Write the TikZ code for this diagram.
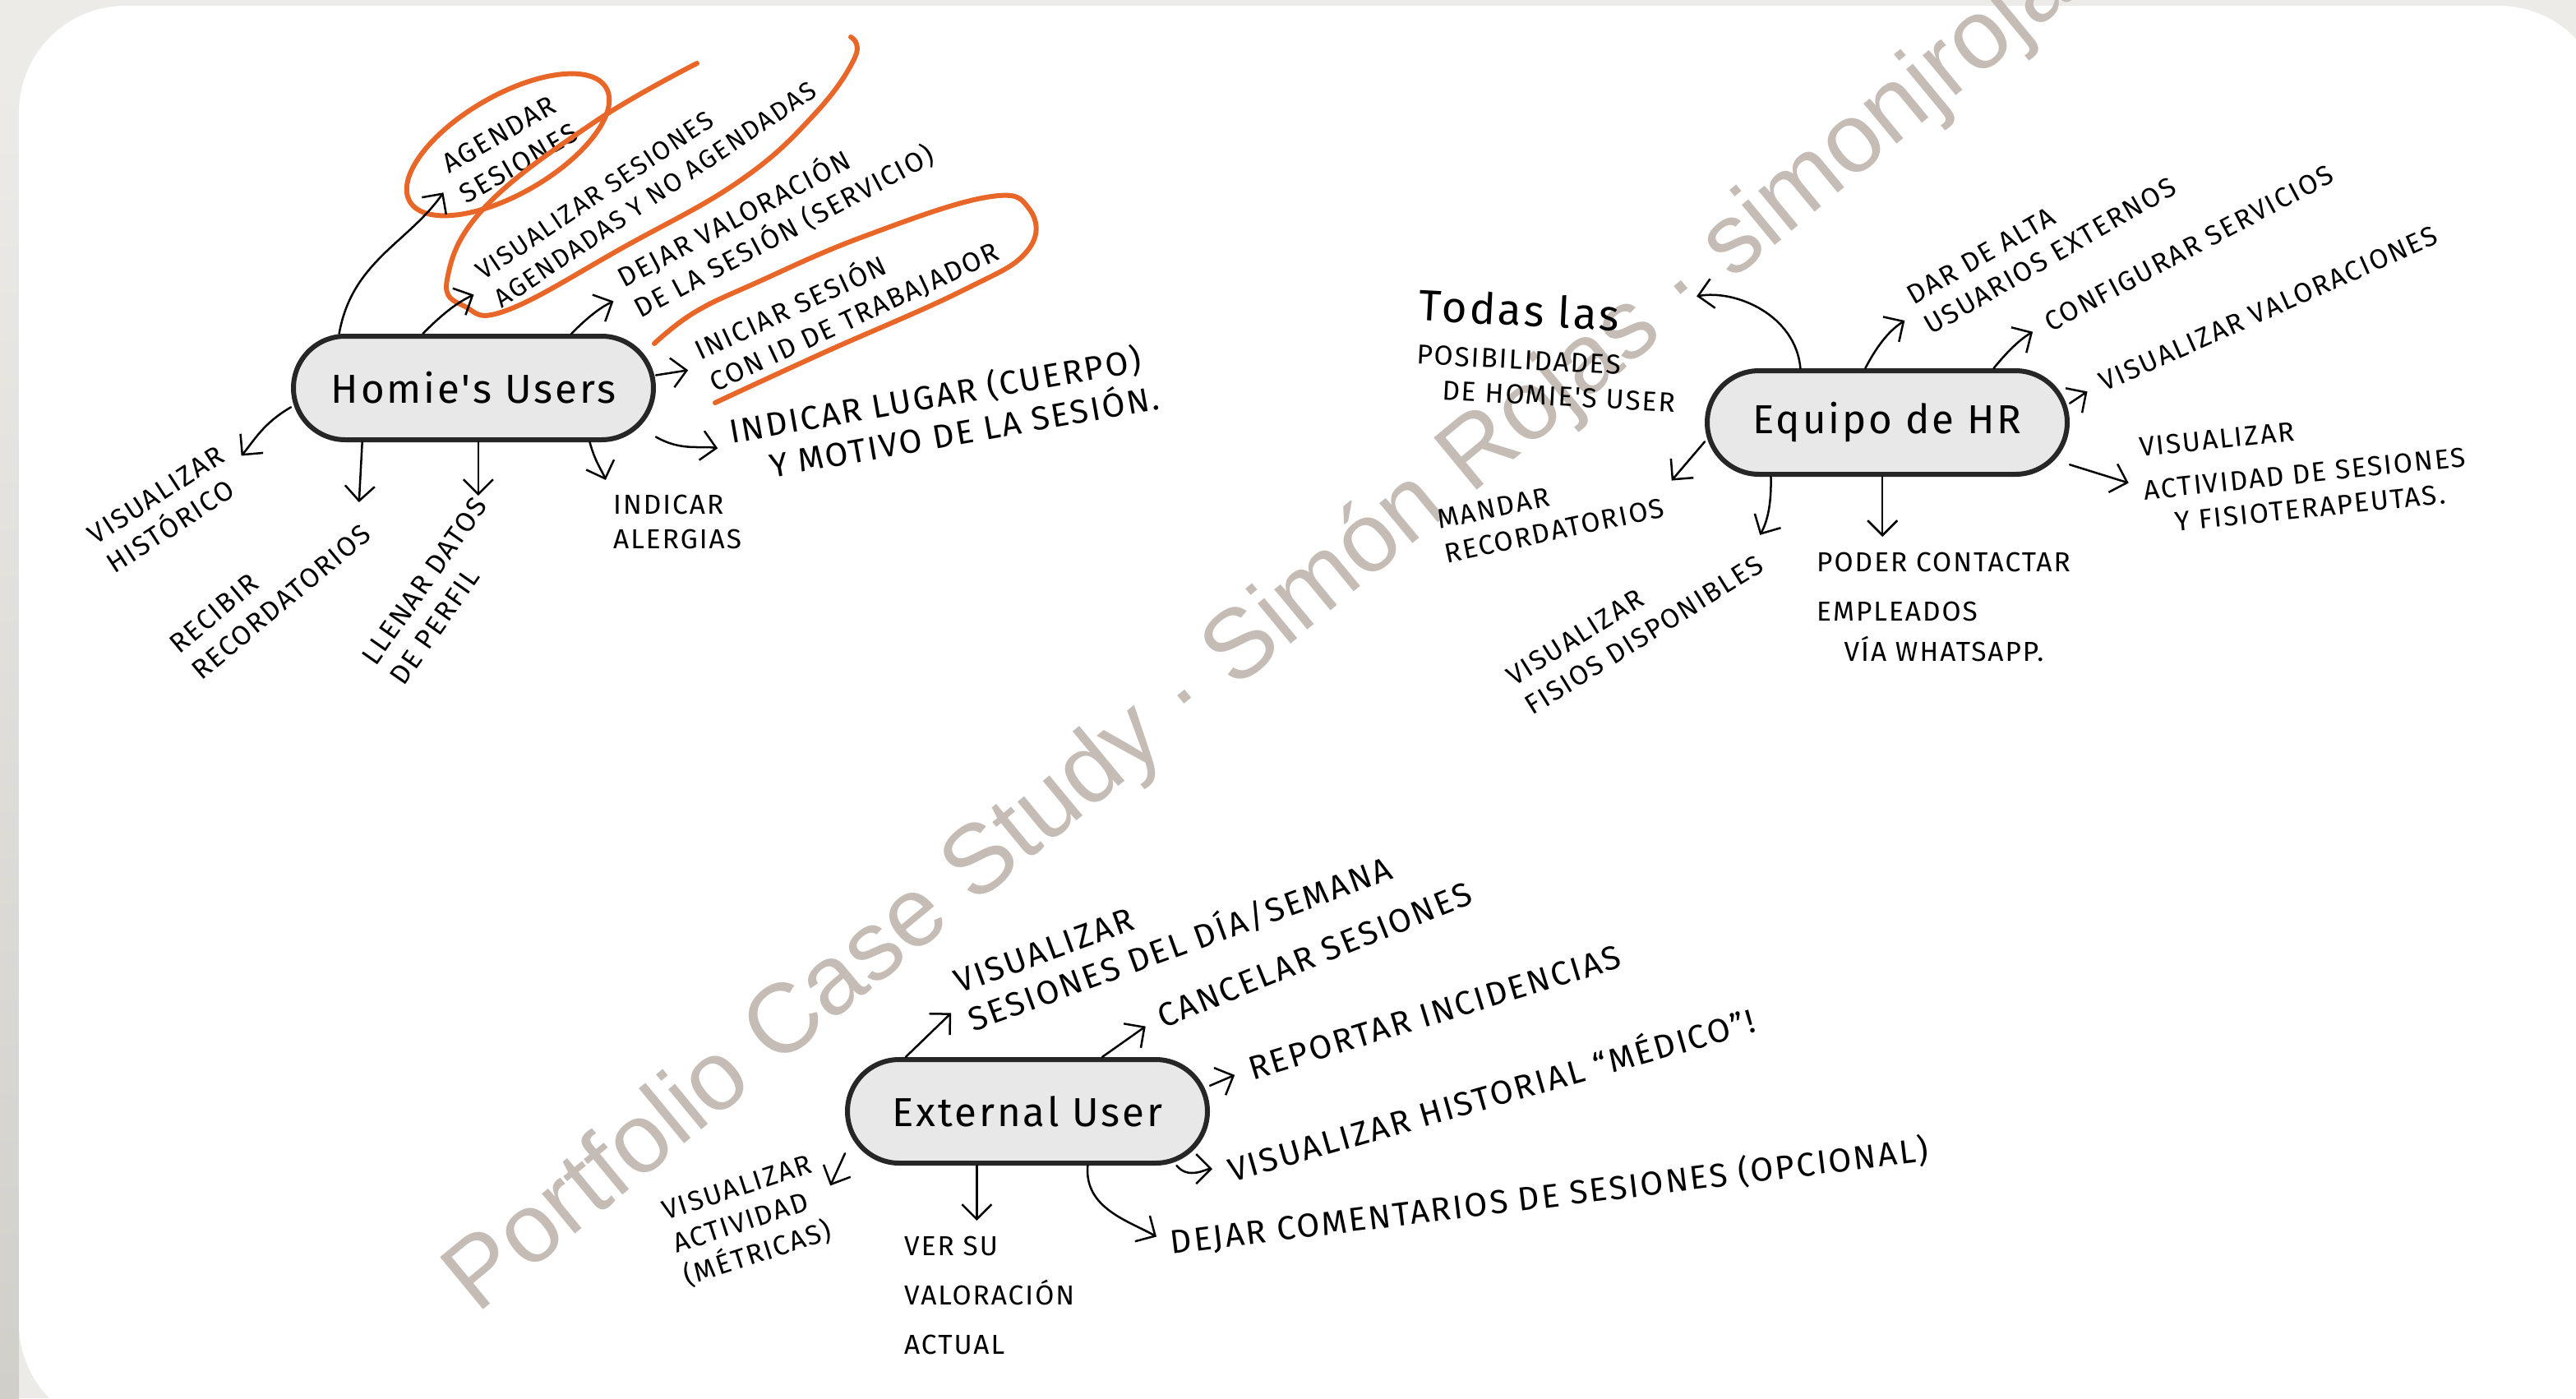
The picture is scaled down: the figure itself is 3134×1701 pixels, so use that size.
\documentclass[tikz,border=0pt]{standalone}
\usepackage{fontspec}
\setmainfont{Fira Sans}
\newfontfamily\handfont[LetterSpace=6]{Fira Sans}
\newfontfamily\markfont{Liberation Sans}
\usetikzlibrary{arrows.meta}
\definecolor{hOrange}{RGB}{232,102,40}
\definecolor{hMark}{RGB}{197,188,182}
\definecolor{hBack}{RGB}{236,235,231}
\definecolor{hShadow}{RGB}{208,207,202}
\definecolor{hHub}{RGB}{232,232,232}
\tikzstyle{mHub} = [rectangle, rounded corners=6.3mm, minimum width=43.8mm, minimum height=12.6mm, draw=black!85, line width=0.6mm, fill=hHub, font=\handfont\fontsize{14}{17}\selectfont]
\tikzstyle{mLabel} = [align=left, inner sep=1pt, font=\handfont\fontsize{9.5}{12}\selectfont]
\tikzstyle{mLabelL} = [mLabel, font=\handfont\fontsize{11.5}{14}\selectfont]
\tikzstyle{mArrow} = [line width=0.25mm, line cap=round, -{Straight Barb[length=1.8mm,width=3.6mm]}, shorten >=1.5mm]
\tikzstyle{mLoop} = [draw=hOrange, line width=0.6mm, line cap=round]
\tikzstyle{mMark} = [text=hMark, font=\markfont\fontsize{34}{40}\selectfont, anchor=base west, inner sep=0pt]

\begin{document}
\begin{tikzpicture}[x=0.1mm, y=0.1mm]
    \useasboundingbox (0,0) rectangle (3134,-1701);
    \clip (0,0) rectangle (3134,-1701);
    \fill [hBack] (0,0) rectangle (3134,-1701);
    \shade [top color=hBack, bottom color=hShadow] (0,-100) rectangle (23,-1701);
    \fill [white, rounded corners=13mm] (23,-7) rectangle (3170,-1740);

    \node (mark) [mMark, rotate=39.5] at (580,-1600) {Portfolio Case Study · Simón Rojas · simonjrojas};

    \node (homies) [mHub] at (576,-472) {Homie's Users};
    \node (equipo) [mHub] at (2296,-514) {Equipo de HR};
    \node (external) [mHub] at (1250,-1352) {External User};

    \node (agendar) [mLabel, anchor=west, rotate=30] at (548,-222) {AGENDAR\\SESIONES};
    \node (visSes) [mLabel, anchor=west, rotate=34, font=\handfont\fontsize{9}{11.5}\selectfont] at (590,-352) {VISUALIZAR SESIONES\\AGENDADAS Y NO AGENDADAS};
    \node (dejar) [mLabel, anchor=west, rotate=28] at (760,-360) {DEJAR VALORACIÓN\\DE LA SESIÓN (SERVICIO)};
    \node (iniciar) [mLabel, anchor=west, rotate=25] at (852,-448) {INICIAR SESIÓN\\CON ID DE TRABAJADOR};
    \node (lugar) [mLabelL, anchor=west, rotate=10] at (888,-548) {INDICAR LUGAR (CUERPO)\\\quad Y MOTIVO DE LA SESIÓN.};
    \node (alergias) [mLabel, anchor=north west] at (742,-598) {INDICAR\\ALERGIAS};
    \node (llenar) [mLabel, anchor=east, rotate=55] at (604,-618) {LLENAR DATOS\\DE PERFIL};
    \node (recibir) [mLabel, anchor=east, rotate=40] at (436,-626) {RECIBIR\\RECORDATORIOS};
    \node (historico) [mLabel, anchor=east, rotate=33] at (284,-566) {VISUALIZAR\\HISTÓRICO};

    \node (todas) [mLabel, anchor=north west, rotate=-3] at (1724,-346) {{\fontsize{15}{17}\selectfont Todas las}\\[3pt]POSIBILIDADES\\\quad DE HOMIE'S USER};
    \node (darAlta) [mLabel, anchor=west, rotate=30] at (2330,-382) {DAR DE ALTA\\USUARIOS EXTERNOS};
    \node (configurar) [mLabel, anchor=west, rotate=28] at (2486,-396) {CONFIGURAR SERVICIOS};
    \node (visVal) [mLabel, anchor=west, rotate=24] at (2552,-468) {VISUALIZAR VALORACIONES};
    \node (visAct) [mLabel, anchor=west, rotate=6] at (2604,-592) {VISUALIZAR\\[3pt]ACTIVIDAD DE SESIONES\\\quad Y FISIOTERAPEUTAS.};
    \node (poder) [mLabel, anchor=north west] at (2206,-668) {PODER CONTACTAR\\[5pt]EMPLEADOS\\[2pt]\quad VÍA WHATSAPP.};
    \node (fisios) [mLabel, anchor=east, rotate=32] at (2134,-664) {VISUALIZAR\\FISIOS DISPONIBLES};
    \node (mandar) [mLabel, anchor=east, rotate=12] at (2024,-596) {MANDAR\\RECORDATORIOS};

    \node (visDia) [mLabelL, anchor=west, rotate=20] at (1168,-1222) {VISUALIZAR\\SESIONES DEL DÍA/SEMANA};
    \node (cancelar) [mLabelL, anchor=west, rotate=22] at (1406,-1240) {CANCELAR SESIONES};
    \node (reportar) [mLabelL, anchor=west, rotate=17] at (1516,-1302) {REPORTAR INCIDENCIAS};
    \node (visHist) [mLabelL, anchor=west, rotate=16] at (1490,-1422) {VISUALIZAR HISTORIAL “MÉDICO”!};
    \node (dejarCom) [mLabelL, anchor=west, rotate=7] at (1420,-1512) {DEJAR COMENTARIOS DE SESIONES (OPCIONAL)};
    \node (verSu) [mLabel, anchor=north west] at (1096,-1500) {VER SU\\[5pt]VALORACIÓN\\[5pt]ACTUAL};
    \node (visActiv) [mLabel, anchor=east, rotate=18] at (1004,-1456) {VISUALIZAR\\ACTIVIDAD\\(MÉTRICAS)};

    \draw [mLoop] (618,-176) ellipse [x radius=138, y radius=60, rotate=30];
    \draw [mLoop] plot [smooth, tension=0.7] coordinates {(848,-77) (721,-150) (589,-253) (544,-340) (566,-373) (618,-377) (760,-300) (900,-220) (990,-140) (1040,-70) (1035,-45)};
    \draw [mLoop] plot [smooth, tension=0.7] coordinates {(796,-418) (845,-380) (920,-344) (1050,-288) (1200,-240) (1252,-254) (1250,-305) (1170,-354) (1000,-430) (870,-490)};

    \draw [mArrow] (homies.158) to[out=80, in=235] (agendar.west);
    \draw [mArrow] (homies.133) to[bend left=10] (visSes.west);
    \draw [mArrow] (homies.29) to[bend left=10] (dejar.west);
    \draw [mArrow] (homies.4) -- (iniciar.west);
    \draw [mArrow] (homies.-15) to[out=-30, in=170] (lugar.west);
    \draw [mArrow] (homies.-25) to[out=-75, in=110] (alergias.north west);
    \draw [mArrow] (homies.-85) -- (homies.-85 |- llenar.east);
    \draw [mArrow] (homies.206) -- (recibir.east);
    \draw [mArrow] (homies.186) to[out=210, in=50] (historico.east);

    \draw [mArrow] (equipo.148) to[out=95, in=10] (todas.north east);
    \draw [mArrow] (equipo.112) to[bend left=15] (darAlta.west);
    \draw [mArrow] (equipo.27) to[bend left=10] (configurar.west);
    \draw [mArrow] (equipo.6) -- (visVal.west);
    \draw [mArrow] (equipo.-13) -- (visAct.west);
    \draw [mArrow] (equipo.265) -- (equipo.265 |- poder.north);
    \draw [mArrow] (equipo.205) to[bend left=15] (fisios.east);
    \draw [mArrow] (equipo.186) -- (mandar.east);

    \draw [mArrow] (external.156) -- (visDia.west);
    \draw [mArrow] (external.36) -- (cancelar.west);
    \draw [mArrow] (external.8) -- (reportar.west);
    \draw [mArrow] (external.-20) to[out=-50, in=180] (visHist.west);
    \draw [mArrow] (external.-42) to[out=-95, in=150] (dejarCom.west);
    \draw [mArrow] (external.227) -- (external.227 |- verSu.north);
    \draw [mArrow] (external.193) -- (visActiv.east);
\end{tikzpicture}
\end{document}
